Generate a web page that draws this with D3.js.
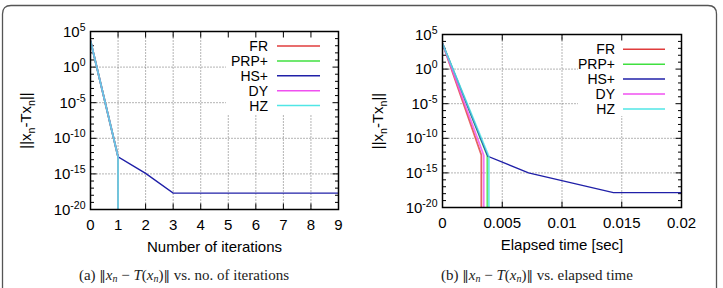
<!DOCTYPE html>
<html>
<head>
<meta charset="utf-8">
<script src="https://cdn.jsdelivr.net/npm/d3@7"></script>
<style>
body { margin: 0; background: #fff; }
svg { display: block; }
.tick text, .lbl { font-family: "Liberation Sans", Arial, sans-serif; fill: #000; }
.cap { font-family: "Liberation Serif", "Times New Roman", serif; font-size: 15px; fill: #222; }
.dbar { font-family: "DejaVu Serif", serif; font-size: 13px; }
.grid line { stroke: #444; stroke-width: 0.8; stroke-dasharray: 1,2; }
</style>
</head>
<body>
<div id="chart"></div>
<script>
// series
var names = ["FR", "PRP+", "HS+", "DY", "HZ"];
var colors = ["#e03c3c", "#40e040", "#2020a8", "#f050f0", "#50e6e6"];

// (a) residual vs iteration  (0 = converged exactly, drawn at the bottom edge)
var iterFR = [0, 1, 1],  resIterFR = [5e3, 2.5e-13, 0];
var iterPRP = [0, 1, 1], resIterPRP = [5e3, 2.5e-13, 0];
var iterHS = [0, 1, 2, 3, 4, 5, 6, 7, 8, 9];
var resIterHS = [5e3, 2.5e-13, 1.2e-15, 2e-18, 2e-18, 2e-18, 2e-18, 2e-18, 2e-18, 2e-18];
var iterDY = [0, 1, 1],  resIterDY = [5e3, 2.5e-13, 0];
var iterHZ = [0, 1, 1],  resIterHZ = [5e3, 2.5e-13, 0];

// (b) residual vs elapsed time [sec]
var timeFR = [0, 0.00325, 0.00325],  resTimeFR = [5e3, 4e-13, 0];
var timePRP = [0, 0.00375, 0.00375], resTimePRP = [5e3, 3e-13, 0];
var timeHS = [0, 0.0038, 0.0072, 0.0143, 0.0178, 0.0214];
var resTimeHS = [5e3, 2.5e-13, 1e-15, 1.4e-18, 1.4e-18, 1.4e-18];
var timeDY = [0, 0.00345, 0.00345],  resTimeDY = [5e3, 3.5e-13, 0];
var timeHZ = [0, 0.00388, 0.00388],  resTimeHZ = [5e3, 2.5e-13, 0];

var yTicks = [1e5, 1e0, 1e-5, 1e-10, 1e-15, 1e-20];
var yTickExp = ["5", "0", "-5", "-10", "-15", "-20"];
var iterTicks = [0, 1, 2, 3, 4, 5, 6, 7, 8, 9];
var timeTicks = [0, 0.005, 0.01, 0.015, 0.02];
var timeTickLabels = ["0", "0.005", "0.01", "0.015", "0.02"];

function zip(xs, ys){ return xs.map(function(x, i){ return {x: x, y: ys[i]}; }); }

var W = 723, H = 288;
var svg = d3.select("#chart").append("svg").attr("width", W).attr("height", H);

// rounded frame (open at the bottom)
svg.append("path")
	.attr("d", "M2.5,288 L2.5,14 Q2.5,5.5 11,5.5 L708,5.5 Q716.5,5.5 716.5,14 L716.5,288")
	.attr("fill", "none").attr("stroke", "#555").attr("stroke-width", 1.3);

function panel(o){
	var x = d3.scaleLinear().domain(o.xDomain).range([o.left, o.right]);
	var y = d3.scaleLog().domain([1e-20, 1e5]).range([o.bottom, o.top]);
	var g = svg.append("g");

	// grid
	var grid = g.append("g").attr("class", "grid");
	grid.selectAll(".gx").data(o.xTicks.slice(1, -1)).enter().append("line")
		.attr("x1", function(d){ return x(d); }).attr("x2", function(d){ return x(d); })
		.attr("y1", o.top).attr("y2", o.bottom);
	grid.selectAll(".gy").data(yTicks.slice(1, -1)).enter().append("line")
		.attr("x1", o.left).attr("x2", o.right)
		.attr("y1", function(d){ return y(d); }).attr("y2", function(d){ return y(d); });

	// legend background hides the grid
	g.append("rect").attr("x", o.legBox[0]).attr("y", o.top + 1)
		.attr("width", o.right - o.legBox[0] - 1).attr("height", o.legBox[1] - o.top)
		.attr("fill", "#fff");

	// inward ticks, mirrored
	var decades = d3.range(-20, 6).map(function(e){ return Math.pow(10, e); });
	var tk = g.append("g").attr("stroke", "#000").attr("stroke-width", 1);
	decades.forEach(function(d, i){
		var len = (i % 5 == 0) ? 6 : 3.5;
		tk.append("line").attr("x1", o.left).attr("x2", o.left + len).attr("y1", y(d)).attr("y2", y(d));
		tk.append("line").attr("x1", o.right).attr("x2", o.right - len).attr("y1", y(d)).attr("y2", y(d));
	});
	o.xTicks.forEach(function(d){
		tk.append("line").attr("x1", x(d)).attr("x2", x(d)).attr("y1", o.bottom).attr("y2", o.bottom - 6);
		tk.append("line").attr("x1", x(d)).attr("x2", x(d)).attr("y1", o.top).attr("y2", o.top + 6);
	});

	// y tick labels 10^k
	yTicks.forEach(function(d, i){
		var t = g.append("text").attr("class", "lbl").attr("text-anchor", "end")
			.attr("x", o.left - 5).attr("y", y(d) + 5).style("font-size", "15px");
		t.append("tspan").text("10");
		t.append("tspan").attr("dy", -6).style("font-size", "10.5px").text(yTickExp[i]);
	});
	// x tick labels
	o.xTicks.forEach(function(d, i){
		g.append("text").attr("class", "lbl").attr("text-anchor", "middle")
			.attr("x", x(d)).attr("y", o.bottom + 20).style("font-size", "15px")
			.text(o.xLabels[i]);
	});

	// axis titles
	g.append("text").attr("class", "lbl").attr("text-anchor", "middle")
		.attr("x", (o.left + o.right) / 2).attr("y", o.bottom + 42).style("font-size", "15px")
		.text(o.xTitle);
	var yt = g.append("text").attr("class", "lbl").attr("text-anchor", "middle")
		.attr("transform", "translate(" + (o.left - 60) + "," + ((o.top + o.bottom) / 2) + ") rotate(-90)")
		.style("font-size", "15px");
	yt.append("tspan").text("||x");
	yt.append("tspan").attr("dy", 4).style("font-size", "10.5px").text("n");
	yt.append("tspan").attr("dy", -4).text("-Tx");
	yt.append("tspan").attr("dy", 4).style("font-size", "10.5px").text("n");
	yt.append("tspan").attr("dy", -4).text("||");

	// clip + lines
	var clipId = "clip" + o.id;
	svg.append("clipPath").attr("id", clipId).append("rect")
		.attr("x", o.left).attr("y", o.top).attr("width", o.right - o.left).attr("height", o.bottom - o.top);
	var line = d3.line()
		.x(function(d){ return x(d.x); })
		.y(function(d){ return d.y > 0 ? y(d.y) : o.bottom; });
	var lines = g.append("g").attr("clip-path", "url(#" + clipId + ")");
	o.series.forEach(function(s, i){
		lines.append("path").attr("d", line(s))
			.attr("fill", "none").attr("stroke", colors[i])
			.attr("stroke-width", i == 2 ? 1.4 : 1.8)
			.attr("stroke-opacity", i == 2 ? 1 : 0.8);
	});

	// frame
	g.append("rect").attr("x", o.left).attr("y", o.top)
		.attr("width", o.right - o.left).attr("height", o.bottom - o.top)
		.attr("fill", "none").attr("stroke", "#000").attr("stroke-width", 1.5);

	// legend
	names.forEach(function(n, i){
		var ly = o.legY + i * 14.9;
		g.append("text").attr("class", "lbl").attr("text-anchor", "end")
			.attr("x", o.legText).attr("y", ly + 5).style("font-size", "14px").text(n);
		g.append("line").attr("x1", o.legLine[0]).attr("x2", o.legLine[1])
			.attr("y1", ly).attr("y2", ly)
			.attr("stroke", colors[i]).attr("stroke-width", 1.5);
	});

	// caption
	var c = svg.append("text").attr("class", "cap").attr("text-anchor", "middle")
		.attr("x", o.capX).attr("y", 280);
	c.append("tspan").text(o.capTag + " ");
	c.append("tspan").attr("class", "dbar").text("\u2016");
	c.append("tspan").style("font-style", "italic").text("x");
	c.append("tspan").attr("dy", 2).style("font-style", "italic").style("font-size", "10px").text("n");
	c.append("tspan").attr("dy", -2).text(" \u2212 ");
	c.append("tspan").style("font-style", "italic").text("T");
	c.append("tspan").text("(");
	c.append("tspan").style("font-style", "italic").text("x");
	c.append("tspan").attr("dy", 2).style("font-style", "italic").style("font-size", "10px").text("n");
	c.append("tspan").attr("dy", -2).text(")");
	c.append("tspan").attr("class", "dbar").text("\u2016");
	c.append("tspan").text(" " + o.capText);
}

panel({
	id: "a", left: 90.5, right: 338.5, top: 31.5, bottom: 209.5,
	xDomain: [0, 9], xTicks: iterTicks, xLabels: iterTicks.map(String),
	xTitle: "Number of iterations",
	series: [zip(iterFR, resIterFR), zip(iterPRP, resIterPRP), zip(iterHS, resIterHS),
		zip(iterDY, resIterDY), zip(iterHZ, resIterHZ)],
	legBox: [226, 113], legY: 46, legText: 268, legLine: [277, 320],
	capX: 184, capTag: "(a)", capText: "vs. no. of iterations"
});

panel({
	id: "b", left: 442.5, right: 681.5, top: 34.5, bottom: 207.5,
	xDomain: [0, 0.02], xTicks: timeTicks, xLabels: timeTickLabels,
	xTitle: "Elapsed time [sec]",
	series: [zip(timeFR, resTimeFR), zip(timePRP, resTimePRP), zip(timeHS, resTimeHS),
		zip(timeDY, resTimeDY), zip(timeHZ, resTimeHZ)],
	legBox: [578, 115], legY: 49.3, legText: 615, legLine: [623, 665],
	capX: 537, capTag: "(b)", capText: "vs. elapsed time"
});
</script>
</body>
</html>
